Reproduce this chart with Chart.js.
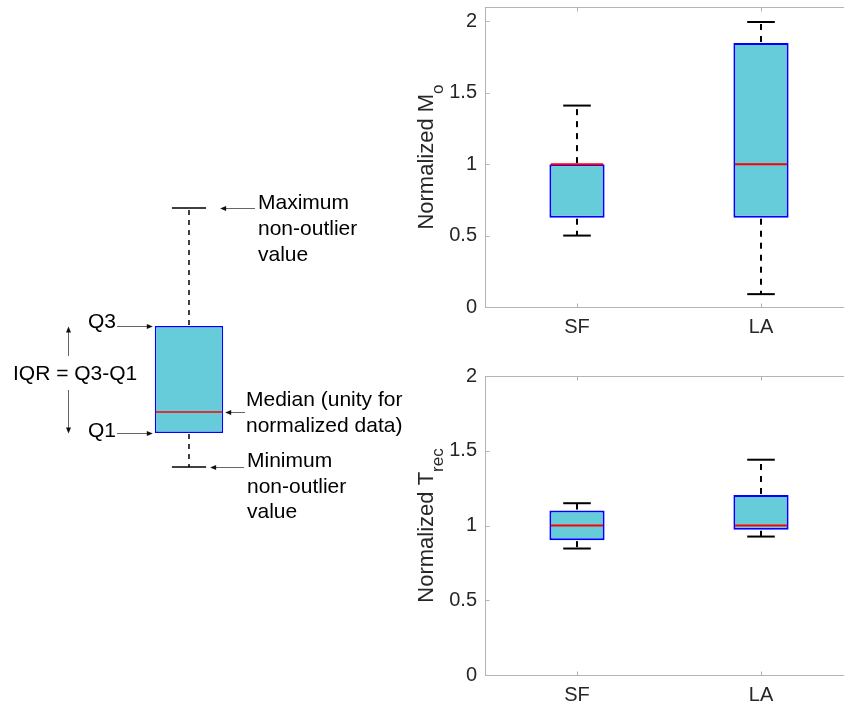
<!DOCTYPE html>
<html>
<head>
<meta charset="utf-8">
<title>Normalized Mo and Trec box plots</title>
<script src="https://cdn.jsdelivr.net/npm/chart.js@4.4.1/dist/chart.umd.min.js"></script>
<style>
  html, body { margin: 0; padding: 0; background: #fff; overflow: hidden; }
  body { width: 844px; height: 706px; position: relative; }
  canvas { position: absolute; }
</style>
</head>
<body>
<canvas id="keyChart" width="430" height="706" style="left:0;top:0"></canvas>
<canvas id="moChart" width="460" height="345" style="left:400px;top:0"></canvas>
<canvas id="trecChart" width="460" height="351" style="left:400px;top:355px"></canvas>
<script>
// sites on the x axis
const sites = ['SF', 'LA'];
const yTicks = [0, 0.5, 1, 1.5, 2];

// normalized Mo, five-number summaries per site
const moMin = [0.50, 0.09];
const moQ1 = [0.625, 0.625];
const moMedian = [1.0, 1.0];
const moQ3 = [1.0, 1.848];
const moMax = [1.41, 1.995];

// normalized Trec
const trecMin = [0.846, 0.926];
const trecQ1 = [0.902, 0.971];
const trecMedian = [1.0, 1.0];
const trecQ3 = [1.100, 1.204];
const trecMax = [1.149, 1.440];

// example box used for the legend sketch on the left
const keyMin = [0.13];
const keyQ1 = [0.47];
const keyMedian = [0.68];
const keyQ3 = [1.54];
const keyMax = [2.72];

const boxFill = 'rgb(102, 204, 217)';
const boxEdge = '#0000ff';
const axisGrey = '#b4b4b4';
const tickText = '#262626';
const fontFamily = '"Liberation Sans", Arial, Helvetica, sans-serif';

Chart.defaults.font.family = fontFamily;
Chart.defaults.font.size = 20;
Chart.defaults.color = tickText;

function hline(ctx, x1, x2, y) {
  ctx.beginPath();
  ctx.moveTo(x1, y);
  ctx.lineTo(x2, y);
  ctx.stroke();
}
function vline(ctx, x, y1, y2) {
  ctx.beginPath();
  ctx.moveTo(x, y1);
  ctx.lineTo(x, y2);
  ctx.stroke();
}

// dashed whiskers, caps and median line on top of the floating bars
function whiskerPlugin(st, style) {
  return {
    id: 'whiskers',
    afterDatasetsDraw(chart) {
      const { ctx, scales: { y } } = chart;
      const bars = chart.getDatasetMeta(0).data;
      ctx.save();
      bars.forEach((bar, i) => {
        const cx = Math.round(bar.x);
        const half = bar.width / 2;
        const capHalf = half * style.cap;
        const yMin = y.getPixelForValue(st.min[i]);
        const yQ1 = y.getPixelForValue(st.q1[i]);
        const yMed = y.getPixelForValue(st.median[i]);
        const yQ3 = y.getPixelForValue(st.q3[i]);
        const yMax = y.getPixelForValue(st.max[i]);

        ctx.strokeStyle = '#000';
        ctx.lineWidth = style.whisker;
        ctx.setLineDash(style.dash);
        vline(ctx, cx, yQ3 - 1, yMax);
        vline(ctx, cx, yQ1 + 1, yMin);
        ctx.setLineDash([]);
        hline(ctx, cx - capHalf, cx + capHalf, yMax);
        hline(ctx, cx - capHalf, cx + capHalf, yMin);

        ctx.strokeStyle = '#ff0000';
        ctx.lineWidth = style.median;
        hline(ctx, cx - half + style.edge, cx + half - style.edge, yMed);
      });
      ctx.restore();
    }
  };
}

// light grey box round the plot with inward tick marks
const framePlugin = {
  id: 'frame',
  beforeDatasetsDraw(chart) {
    const { ctx, chartArea: a, scales: { x, y } } = chart;
    const l = Math.round(a.left) + 0.5;
    const r = Math.round(a.right) + 0.5;
    const t = Math.round(a.top) + 0.5;
    const b = Math.round(a.bottom) + 0.5;
    ctx.save();
    ctx.strokeStyle = axisGrey;
    ctx.lineWidth = 1;
    ctx.strokeRect(l, t, r - l, b - t);
    y.ticks.forEach(tk => {
      const py = Math.round(y.getPixelForValue(tk.value)) + 0.5;
      hline(ctx, l, l + 4, py);
      hline(ctx, r, r - 4, py);
    });
    x.ticks.forEach((tk, i) => {
      const px = Math.round(x.getPixelForTick(i)) + 0.5;
      vline(ctx, px, b, b - 4);
      vline(ctx, px, t, t + 4);
    });
    ctx.restore();
  }
};

// rotated y title with a subscript
function axisTitlePlugin(main, sub) {
  return {
    id: 'axisTitle',
    afterDraw(chart) {
      const { ctx, chartArea: a } = chart;
      const mainFont = '22px ' + fontFamily;
      const subFont = '17px ' + fontFamily;
      ctx.save();
      ctx.fillStyle = tickText;
      ctx.font = mainFont;
      const wMain = ctx.measureText(main).width;
      ctx.font = subFont;
      const wSub = ctx.measureText(sub).width;
      ctx.translate(a.left - 52, (a.top + a.bottom) / 2);
      ctx.rotate(-Math.PI / 2);
      ctx.textAlign = 'left';
      ctx.textBaseline = 'alphabetic';
      const start = -(wMain + wSub) / 2;
      ctx.font = mainFont;
      ctx.fillText(main, start, 0);
      ctx.font = subFont;
      ctx.fillText(sub, start + wMain, 10);
      ctx.restore();
    }
  };
}

function boxChart(id, st, yMax, pad, axisHeight, title, sub) {
  return new Chart(document.getElementById(id), {
    type: 'bar',
    data: {
      labels: sites,
      datasets: [{
        data: st.q1.map((v, i) => [v, st.q3[i]]),
        backgroundColor: boxFill,
        borderColor: boxEdge,
        borderWidth: 2,
        borderSkipped: false,
        categoryPercentage: 1,
        barPercentage: 0.3
      }]
    },
    options: {
      responsive: false,
      animation: false,
      devicePixelRatio: 1,
      layout: { padding: { top: pad, right: 7, left: 0, bottom: 0 } },
      plugins: { legend: { display: false }, tooltip: { enabled: false } },
      scales: {
        x: {
          offset: true,
          grid: { display: false, drawTicks: false },
          border: { display: false },
          ticks: { padding: 8, color: tickText },
          afterFit: s => { s.height = axisHeight; }
        },
        y: {
          min: 0,
          max: yMax,
          grid: { display: false, drawTicks: false },
          border: { display: false },
          afterBuildTicks: s => { s.ticks = yTicks.map(v => ({ value: v })); },
          ticks: { padding: 8, color: tickText, callback: v => String(v) },
          afterFit: s => {
            s.width = 85;
            s.paddingTop = 0;
            s.paddingBottom = 0;
          }
        }
      }
    },
    plugins: [framePlugin, whiskerPlugin(st, { cap: 0.5, dash: [6, 6], whisker: 2, median: 2, edge: 1.5 }),
      axisTitlePlugin(title, sub)]
  });
}

boxChart('moChart',
  { min: moMin, q1: moQ1, median: moMedian, q3: moQ3, max: moMax },
  2.1, 7, 38, 'Normalized M', 'o');

boxChart('trecChart',
  { min: trecMin, q1: trecQ1, median: trecMedian, q3: trecQ3, max: trecMax },
  2, 21, 31, 'Normalized T', 'rec');

// ---- legend sketch: one labelled box ----
function arrow(ctx, x1, y1, x2, y2) {
  const ang = Math.atan2(y2 - y1, x2 - x1);
  const c = Math.cos(ang), s = Math.sin(ang);
  ctx.strokeStyle = '#666';
  ctx.lineWidth = 1;
  ctx.beginPath();
  ctx.moveTo(x1, y1);
  ctx.lineTo(x2 - 4 * c, y2 - 4 * s);
  ctx.stroke();
  ctx.fillStyle = '#111';
  ctx.beginPath();
  ctx.moveTo(x2, y2);
  ctx.lineTo(x2 - 6 * c + 2.5 * s, y2 - 6 * s - 2.5 * c);
  ctx.lineTo(x2 - 6 * c - 2.5 * s, y2 - 6 * s + 2.5 * c);
  ctx.closePath();
  ctx.fill();
}

const notesPlugin = {
  id: 'notes',
  afterDraw(chart) {
    const { ctx, scales: { y } } = chart;
    const bar = chart.getDatasetMeta(0).data[0];
    const cx = bar.x;
    const half = bar.width / 2;
    const capHalf = half * 0.5;
    const py = v => Math.round(y.getPixelForValue(v)) + 0.5;
    const yMax = py(keyMax[0]);
    const yQ3 = py(keyQ3[0]);
    const yMed = py(keyMedian[0]);
    const yQ1 = py(keyQ1[0]);
    const yMin = py(keyMin[0]);

    ctx.save();
    ctx.font = '21px ' + fontFamily;
    ctx.textAlign = 'left';
    ctx.textBaseline = 'middle';
    const text = (str, x, yy) => { ctx.fillStyle = '#000'; ctx.fillText(str, x, yy); };

    // maximum
    arrow(ctx, cx + 66, yMax, cx + capHalf + 14, yMax);
    text('Maximum', cx + 69, yMax - 5);
    text('non-outlier', cx + 69, yMax + 21);
    text('value', cx + 69, yMax + 47);

    // quartiles
    text('Q3', 88, yQ3 - 4);
    arrow(ctx, 117, yQ3, cx - half - 2, yQ3);
    text('Q1', 88, yQ1 - 2);
    arrow(ctx, 117, yQ1, cx - half - 2, yQ1);

    // inter-quartile range
    const yMid = (yQ3 + yQ1) / 2 - 6;
    text('IQR = Q3-Q1', 13, yMid);
    arrow(ctx, 68.5, yMid - 18, 68.5, yQ3);
    arrow(ctx, 68.5, yMid + 16, 68.5, yQ1);

    // median
    arrow(ctx, cx + 56, yMed, cx + half + 2, yMed);
    text('Median (unity for', cx + 57, yMed - 12);
    text('normalized data)', cx + 57, yMed + 14);

    // minimum
    arrow(ctx, cx + 55, yMin, cx + capHalf + 4, yMin);
    text('Minimum', cx + 58, yMin - 6);
    text('non-outlier', cx + 58, yMin + 20);
    text('value', cx + 58, yMin + 45);
    ctx.restore();
  }
};

new Chart(document.getElementById('keyChart'), {
  type: 'bar',
  data: {
    labels: ['box'],
    datasets: [{
      data: [[keyQ1[0], keyQ3[0]]],
      backgroundColor: boxFill,
      borderColor: boxEdge,
      borderWidth: 1.5,
      borderSkipped: false,
      categoryPercentage: 1,
      barPercentage: 0.3
    }]
  },
  options: {
    responsive: false,
    animation: false,
    devicePixelRatio: 1,
    layout: { padding: { left: 75, right: 127, top: 180, bottom: 226 } },
    plugins: { legend: { display: false }, tooltip: { enabled: false } },
    scales: {
      x: { display: false },
      y: { display: false, min: 0, max: 3 }
    }
  },
  plugins: [
    whiskerPlugin({ min: keyMin, q1: keyQ1, median: keyMedian, q3: keyQ3, max: keyMax },
      { cap: 0.5, dash: [5, 5], whisker: 1.5, median: 1.5, edge: 1 }),
    notesPlugin
  ]
});
</script>
</body>
</html>
